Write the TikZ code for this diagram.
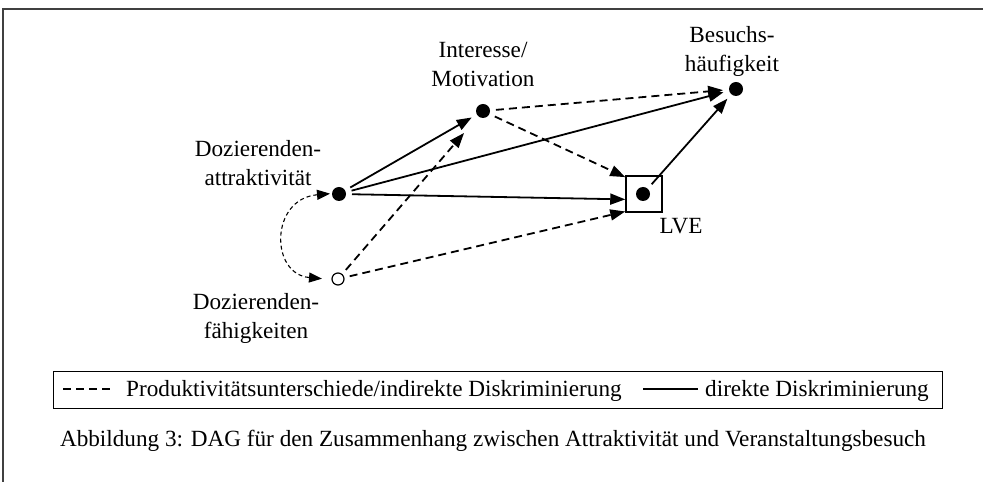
\documentclass[tikz,border=0pt]{standalone}
\usepackage{fontspec}
\setmainfont{Liberation Serif}
\usetikzlibrary{arrows.meta,positioning}

\begin{document}
\begin{tikzpicture}[x=1pt, y=1pt,
  dot/.style={circle, fill, inner sep=0pt, minimum size=14pt, outer sep=6pt},
  opendot/.style={circle, draw, line width=1.2pt, inner sep=0pt, minimum size=12pt, outer sep=6pt},
  lbl/.style={align=center, inner sep=0pt, font=\fontsize{23.2}{29}\selectfont},
  direct/.style={-{Triangle[length=15pt,width=11pt]}, line width=1.8pt},
  indirect/.style={direct, dash pattern=on 8pt off 5pt},
  confound/.style={{Triangle[length=13pt,width=10pt]}-{Triangle[length=13pt,width=10pt]}, line width=1.1pt, dash pattern=on 4pt off 3pt}]
\useasboundingbox (0,0) rectangle (983,482);
\draw[line width=1.5pt, black!75] (3,0) -- (3,473) -- (983,473);

% variables
\node[dot] (attr) at (339,288) {};
\node[opendot] (faeh) at (338,203) {};
\node[dot] (inter) at (483,371) {};
\node[dot] (besuch) at (736,393) {};
\node[draw, line width=1.5pt, minimum size=36pt, inner sep=0pt] (lve) at (644,288) {};
\node[dot] (lvedot) at (643,288) {};

\node[lbl] (attrtext) at (258,319) {Dozierenden-\\attraktivität};
\node[lbl] (faehtext) at (256,164) {Dozierenden-\\fähigkeiten};
\node[lbl] (intertext) at (483,418) {Interesse/\\Motivation};
\node[lbl] (besuchtext) at (732,431) {Besuchs-\\häufigkeit};
\node[lbl] (lvetext) at (681,256) {LVE};

% paths
\draw[direct] (attr) -- (inter);
\draw[direct] (attr) -- (besuch);
\draw[direct] (attr) -- (lve.196);
\draw[direct] (lvedot) -- (besuch);
\draw[indirect] (inter) -- (besuch);
\draw[indirect] (inter) -- (lve.138);
\draw[indirect, shorten >=16pt] (faeh) -- (inter);
\draw[indirect] (faeh) -- (lve.223);
\draw[confound, shorten <=-4pt, shorten >=4pt] (attr.west) to[out=185, in=175, looseness=1.7] (faeh.west);

% legend
\node[draw, line width=1pt, minimum width=889pt, minimum height=37pt] (legend) at (497.5,91.5) {};
\node[lbl, anchor=west] (indtext) at (126,91) {Produktivitätsunterschiede/indirekte Diskriminierung};
\node[lbl, anchor=west] (dirtext) at (705,91) {direkte Diskriminierung};
\coordinate (inda) at (63,93);
\coordinate (indb) at (112,93);
\coordinate (dira) at (643,93);
\coordinate (dirb) at (698,93);
\draw[line width=1.2pt, dash pattern=on 8pt off 5pt] (inda) -- (indb);
\draw[line width=1.8pt] (dira) -- (dirb);

\node[lbl] (caption) at (493,41) {Abbildung 3: DAG für den Zusammenhang zwischen Attraktivität und Veranstaltungsbesuch};
\end{tikzpicture}
\end{document}
